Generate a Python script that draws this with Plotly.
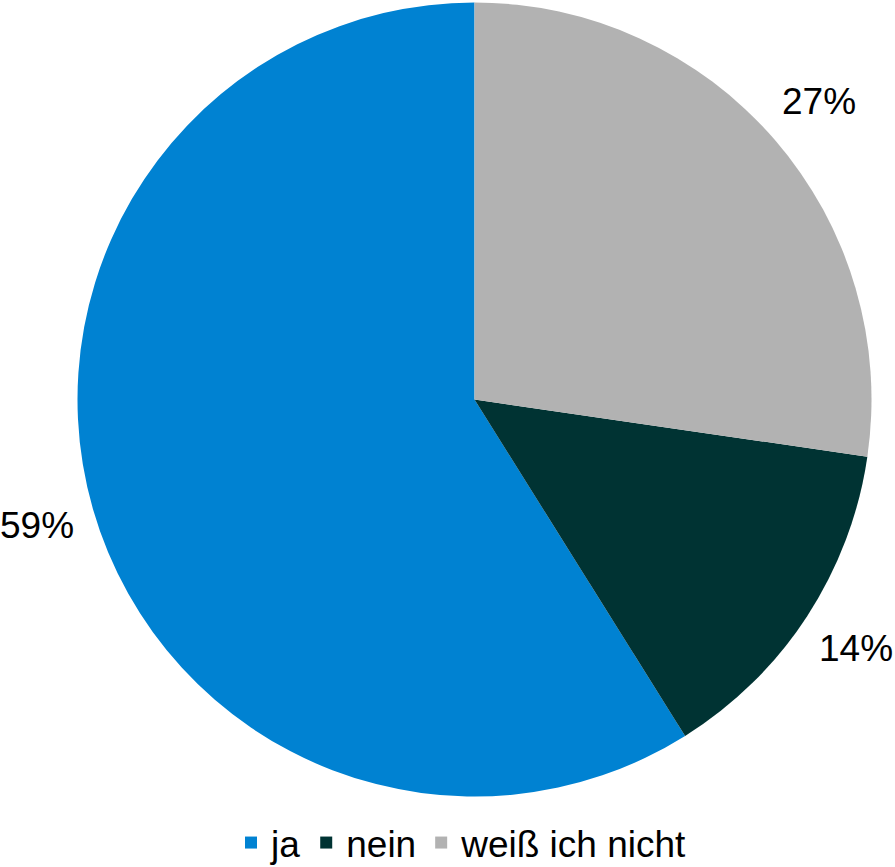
import math
import plotly.graph_objects as go

labels = ["ja", "nein", "weiß ich nicht"]
values = [58.9, 13.8, 27.3]
colors = ["#0082D2", "#003333", "#B2B2B2"]

W, H = 895, 867
CX, CY, R = 474.5, 399.5, 397      # pie centre / radius in pixels
LABEL_R = 455                       # radius of the percentage labels
FONT = "Liberation Sans, Arial, Helvetica, sans-serif"

total = sum(values)
rotation = 360 * (1 - values[0] / total)  # first slice starts at 12 o'clock, counterclockwise

fig = go.Figure(go.Pie(
    labels=labels,
    values=values,
    marker=dict(colors=colors, line=dict(width=0)),
    sort=False,
    direction="counterclockwise",
    rotation=rotation,
    textinfo="none",
    hoverinfo="label+percent",
    domain=dict(x=[(CX - R) / W, (CX + R) / W], y=[1 - (CY + R) / H, 1 - (CY - R) / H]),
))

# percentage labels outside the slices, placed at each slice's mid-angle
annotations = []
start = 0.0  # counterclockwise angle from 12 o'clock
for v in values:
    ang = v / total * 360
    mid = start + ang / 2
    start += ang
    theta = math.radians(-mid)
    px = CX + LABEL_R * math.sin(theta)
    py = CY - LABEL_R * math.cos(theta)
    annotations.append(dict(
        x=px / W, y=1 - py / H, xref="paper", yref="paper",
        text=f"{round(v / total * 100)}%", showarrow=False,
        xanchor="center", yanchor="middle",
        font=dict(family=FONT, size=37, color="black"),
    ))

fig.update_layout(
    width=W,
    height=H,
    margin=dict(l=0, r=0, t=0, b=0, autoexpand=False),
    paper_bgcolor="white",
    plot_bgcolor="white",
    font=dict(family=FONT, size=37, color="black"),
    showlegend=True,
    legend=dict(
        orientation="h",
        x=462 / W,
        xanchor="center",
        y=1 - 843 / H,
        yanchor="middle",
        font=dict(family=FONT, size=37, color="black"),
        bgcolor="rgba(0,0,0,0)",
    ),
    annotations=annotations,
)

fig.write_html(
    "out.html",
    config={"displayModeBar": False},
    post_script="document.body.style.margin='0';document.body.style.overflow='hidden';",
)
